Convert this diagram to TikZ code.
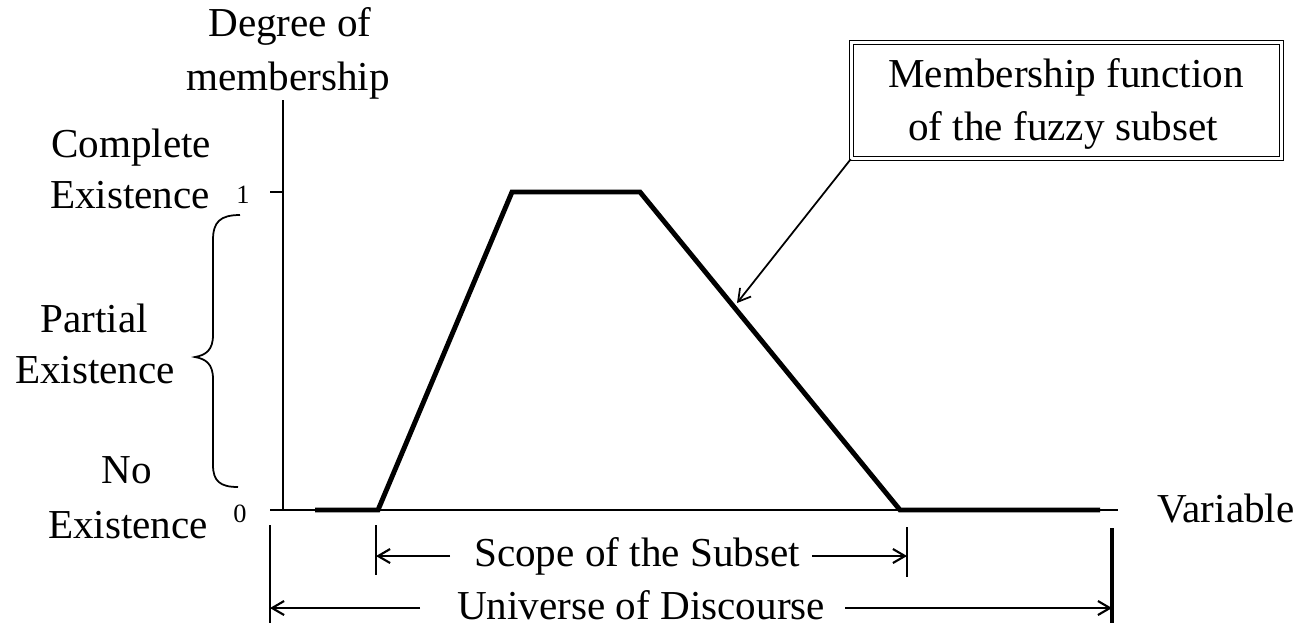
\documentclass[tikz,border=0pt]{standalone}
\usepackage{fontspec}
\setmainfont{Liberation Serif}
\usetikzlibrary{arrows.meta}
\begin{document}
\begin{tikzpicture}[x=0.01cm,y=-0.01cm,
  lbl/.style={font=\fontsize{11.7}{14}\selectfont, inner sep=0pt, anchor=base},
  num/.style={font=\fontsize{7.5}{9}\selectfont, inner sep=0pt, anchor=base},
  axis/.style={line width=0.7pt},
  curve/.style={line width=1.4pt, line join=miter},
  thinline/.style={line width=0.5pt},
  dimarrow/.style={line width=0.6pt, -{Straight Barb[length=1.2mm,width=1.4mm]}},
  callout/.style={draw, double, line width=0.4pt, double distance=0.7pt,
    minimum width=4.30cm, minimum height=1.16cm, inner sep=0pt}]
\clip (0,0) rectangle (1301,623);
\useasboundingbox (0,0) rectangle (1301,623);
% axes
\coordinate (O) at (283,510);
\coordinate (ytop) at (283,100);
\coordinate (xl) at (270,510);
\coordinate (xr) at (1118,510);
\coordinate (t1a) at (270,192);
\coordinate (t1b) at (283,192);
\draw[axis] (O) -- (ytop);
\draw[axis] (xl) -- (xr);
\draw[axis] (t1a) -- (t1b);
% membership function
\coordinate (p1) at (315,510);
\coordinate (p2) at (378,510);
\coordinate (p3) at (512,192);
\coordinate (p4) at (640,192);
\coordinate (p5) at (900,510);
\coordinate (p6) at (1100,510);
\draw[curve] (p1) -- (p2) -- (p3) -- (p4) -- (p5) -- (p6);
% labels
\node[lbl] (deg1) at (290,36) {Degree of};
\node[lbl] (deg2) at (288,90) {membership};
\node[lbl] (ce1) at (131,157) {Complete};
\node[lbl] (ce2) at (130,208) {Existence};
\node[num] (one) at (243,203) {1};
\node[lbl] (pe1) at (94,332) {Partial};
\node[lbl] (pe2) at (95,383) {Existence};
\node[lbl] (ne1) at (127,483) {No};
\node[lbl] (ne2) at (128,538) {Existence};
\node[num] (zero) at (240,522) {0};
\node[lbl] (var) at (1226,522) {Variable};
% brace
\coordinate (bt) at (240,215);
\coordinate (bm) at (195,357);
\coordinate (bb) at (238,487);
\draw[thinline] (bt) .. controls (220,215) and (213,222) .. (213,240) -- (213,335)
  .. controls (213,350) and (206,355) .. (bm)
  .. controls (206,359) and (213,364) .. (213,379) -- (213,465)
  .. controls (213,481) and (220,487) .. (bb);
% callout
\node[callout] (box) at (1066.5,100.5) {};
\node[lbl] (bx1) at (1066,87) {Membership function};
\node[lbl] (bx2) at (1063,140) {of the fuzzy subset};
\coordinate (tip) at (737,303);
\draw[thinline, -{Straight Barb[length=1.2mm,width=1.4mm]}] (box.south west) -- (tip);
% scope
\coordinate (sl1) at (376,525); \coordinate (sl2) at (376,575);
\coordinate (sr1) at (907,527); \coordinate (sr2) at (907,577);
\draw[thinline] (sl1) -- (sl2);
\draw[thinline] (sr1) -- (sr2);
\node[lbl] (scope) at (637,566) {Scope of the Subset};
\coordinate (slt) at (450,556); \coordinate (slh) at (376,556);
\coordinate (srt) at (812,556); \coordinate (srh) at (907,556);
\draw[dimarrow] (slt) -- (slh);
\draw[dimarrow] (srt) -- (srh);
% universe
\coordinate (ul1) at (270,525); \coordinate (ul2) at (270,623);
\coordinate (ur1) at (1112,528); \coordinate (ur2) at (1112,623);
\draw[thinline] (ul1) -- (ul2);
\draw[line width=1pt] (ur1) -- (ur2);
\node[lbl] (univ) at (641,619) {Universe of Discourse};
\coordinate (ult) at (420,608); \coordinate (ulh) at (270,608);
\coordinate (urt) at (845,608); \coordinate (urh) at (1112,608);
\draw[dimarrow] (ult) -- (ulh);
\draw[dimarrow] (urt) -- (urh);
\end{tikzpicture}
\end{document}
